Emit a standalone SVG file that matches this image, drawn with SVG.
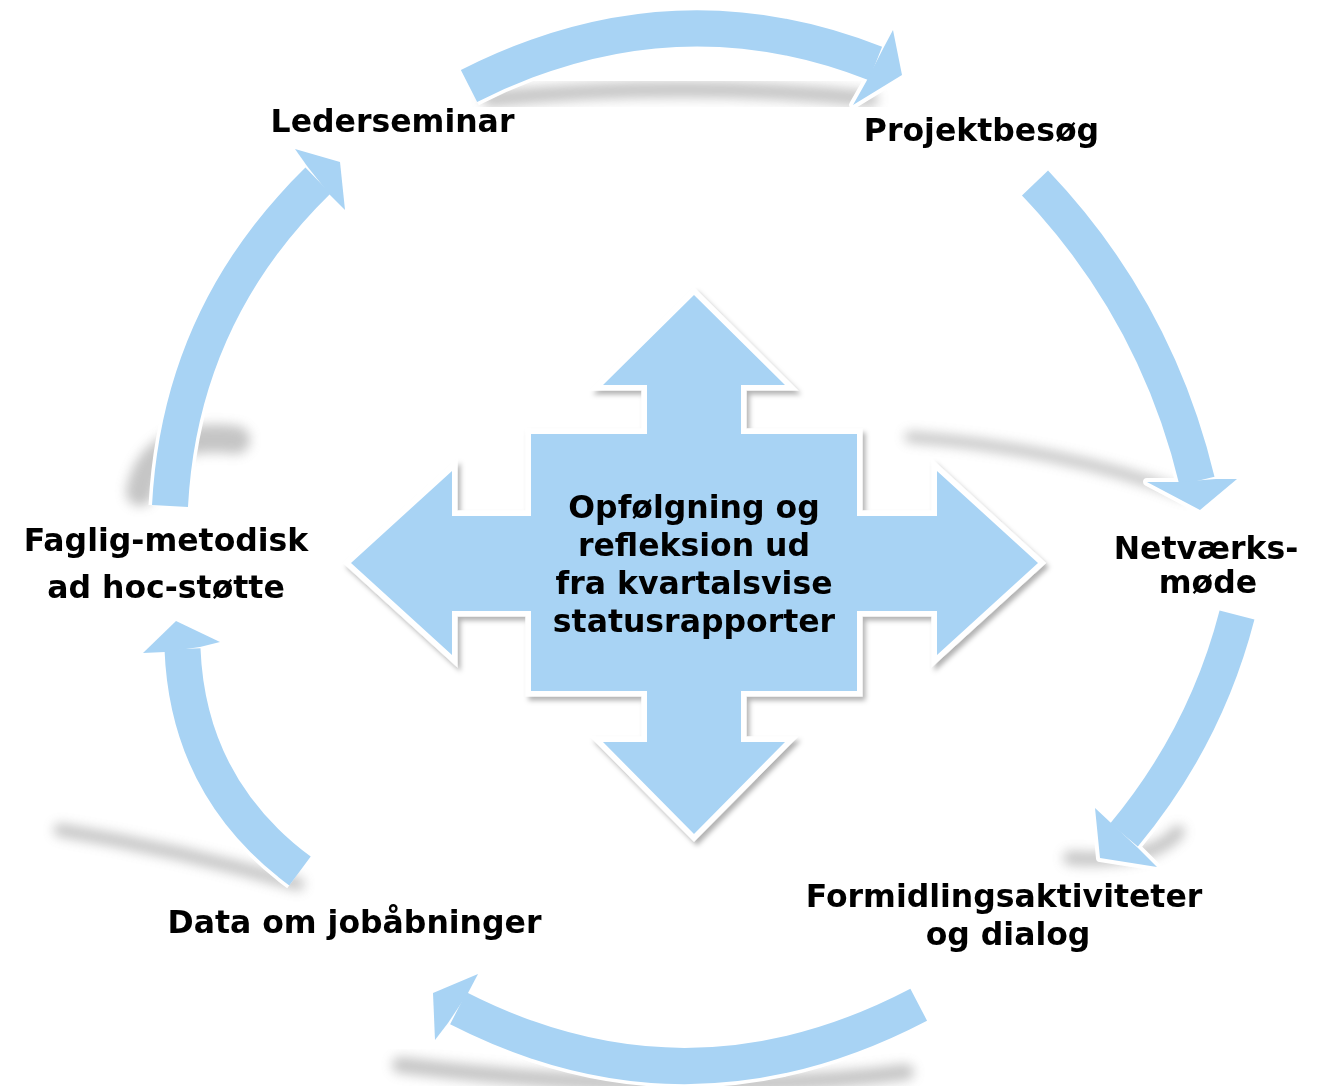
<svg xmlns="http://www.w3.org/2000/svg" width="1319" height="1086" viewBox="0 0 1319 1086">
<defs>
<style>
.lbl{font-family:"DejaVu Sans",Verdana,sans-serif;font-weight:bold;font-size:31.5px;fill:#000;text-anchor:middle}
.sh-o{fill:none;stroke:#fff;stroke-width:43}
.sh{fill:none;stroke:#A8D3F4;stroke-width:36}
.hd-o{fill:#fff;stroke:#fff;stroke-width:8;stroke-linejoin:round}
.hd{fill:#A8D3F4}
.shadow{fill:none;stroke:#6e6e6e;stroke-linecap:round;filter:url(#blur)}
.cross{fill:#A8D3F4;stroke:#fff;stroke-width:11;paint-order:stroke;stroke-linejoin:miter;filter:url(#ds)}
</style>
<filter id="blur" x="-30%" y="-80%" width="160%" height="260%"><feGaussianBlur stdDeviation="6"/></filter>
<filter id="ds" x="-10%" y="-10%" width="120%" height="120%"><feDropShadow dx="3" dy="4" stdDeviation="2.5" flood-color="#000" flood-opacity="0.3"/></filter>
</defs>
<rect width="1319" height="1086" fill="#fff"/>
<g id="shadows" opacity="0.4">
<path class="shadow" d="M490,99 Q685,80 870,99" stroke-width="16"/>
<path class="shadow" d="M910,437 Q1060,448 1186,494" stroke-width="11"/>
<path class="shadow" d="M236,440 Q152,430 140,492" stroke-width="28"/>
<path class="shadow" d="M60,830 Q180,850 298,884" stroke-width="13"/>
<path class="shadow" d="M1070,858 Q1150,864 1178,832" stroke-width="14"/>
<path class="shadow" d="M400,1065 Q690,1100 906,1072" stroke-width="16"/>
</g>
<g id="connectors">
<g id="arrow-leder-projekt">
<path class="sh-o" d="M469,86 Q671.75,-16.75 875.5,63.5"/>
<path class="hd-o" d="M885,45 L893,30 L902,75 L853,105 L866,82 Z"/>
<path class="sh" d="M469,86 Q671.75,-16.75 875.5,63.5"/>
<path class="hd" d="M885,45 L893,30 L902,75 L853,105 L866,82 Z"/>
</g>
<g id="arrow-projekt-netvaerk">
<path class="sh-o" d="M1035,183 Q1156,310 1197,481"/>
<path class="hd-o" d="M1178,482 L1147,482 L1200,510 L1237,479 L1216,479 Z"/>
<path class="sh" d="M1035,183 Q1156,310 1197,481"/>
<path class="hd" d="M1178,482 L1147,482 L1200,510 L1237,479 L1216,479 Z"/>
</g>
<g id="arrow-netvaerk-formidling">
<path class="sh-o" d="M1237,615 Q1205.5,737 1124,835"/>
<path class="hd-o" d="M1110,822 L1095,808 L1100,858 L1157,867 L1138,848 Z"/>
<path class="sh" d="M1237,615 Q1205.5,737 1124,835"/>
<path class="hd" d="M1110,822 L1095,808 L1100,858 L1157,867 L1138,848 Z"/>
</g>
<g id="arrow-formidling-data">
<path class="sh-o" d="M918.7,1004.7 Q687.5,1125.5 458.3,1008.3"/>
<path class="hd-o" d="M468,993 L478,974 L433,993 L435,1040 L448,1023 Z"/>
<path class="sh" d="M918.7,1004.7 Q687.5,1125.5 458.3,1008.3"/>
<path class="hd" d="M468,993 L478,974 L433,993 L435,1040 L448,1023 Z"/>
</g>
<g id="arrow-data-faglig">
<path class="sh-o" d="M300,871 Q188,788 182.5,649"/>
<path class="hd-o" d="M165,652 L143,653 L176,621 L220,642 L200,647 Z"/>
<path class="sh" d="M300,871 Q188,788 182.5,649"/>
<path class="hd" d="M165,652 L143,653 L176,621 L220,642 L200,647 Z"/>
</g>
<g id="arrow-faglig-leder">
<path class="sh-o" d="M170,506 Q180,315 318,180.5"/>
<path class="hd-o" d="M307,166 L295,149 L340,162 L345,210 L330,195 Z"/>
<path class="sh" d="M170,506 Q180,315 318,180.5"/>
<path class="hd" d="M307,166 L295,149 L340,162 L345,210 L330,195 Z"/>
</g>
</g>
<g id="center">
<path class="cross" d="M694,295 L785,385 L741,385 L741,434 L857,434 L857,516 L937,516 L937,471 L1038,563 L937,655 L937,611 L857,611 L857,691 L741,691 L741,742 L785,742 L694,834 L603,742 L647,742 L647,691 L531,691 L531,611 L452,611 L452,655 L351,563 L452,471 L452,516 L531,516 L531,434 L647,434 L647,385 L603,385 Z"/>
<text class="lbl" x="694" y="518">Opfølgning og</text>
<text class="lbl" x="694" y="556">refleksion ud</text>
<text class="lbl" x="694" y="594">fra kvartalsvise</text>
<text class="lbl" x="694" y="632">statusrapporter</text>
</g>
<g id="lederseminar"><text class="lbl" x="392.5" y="132">Lederseminar</text></g>
<g id="projektbesoeg"><text class="lbl" x="981.5" y="141">Projektbesøg</text></g>
<g id="netvaerksmoede"><text class="lbl" x="1206" y="559">Netværks-</text><text class="lbl" x="1208" y="593">møde</text></g>
<g id="formidling"><text class="lbl" x="1004" y="907">Formidlingsaktiviteter</text><text class="lbl" x="1008" y="945">og dialog</text></g>
<g id="data"><text class="lbl" x="354.5" y="933">Data om jobåbninger</text></g>
<g id="faglig"><text class="lbl" x="166" y="551">Faglig-metodisk</text><text class="lbl" x="166" y="598">ad hoc-støtte</text></g>
</svg>
